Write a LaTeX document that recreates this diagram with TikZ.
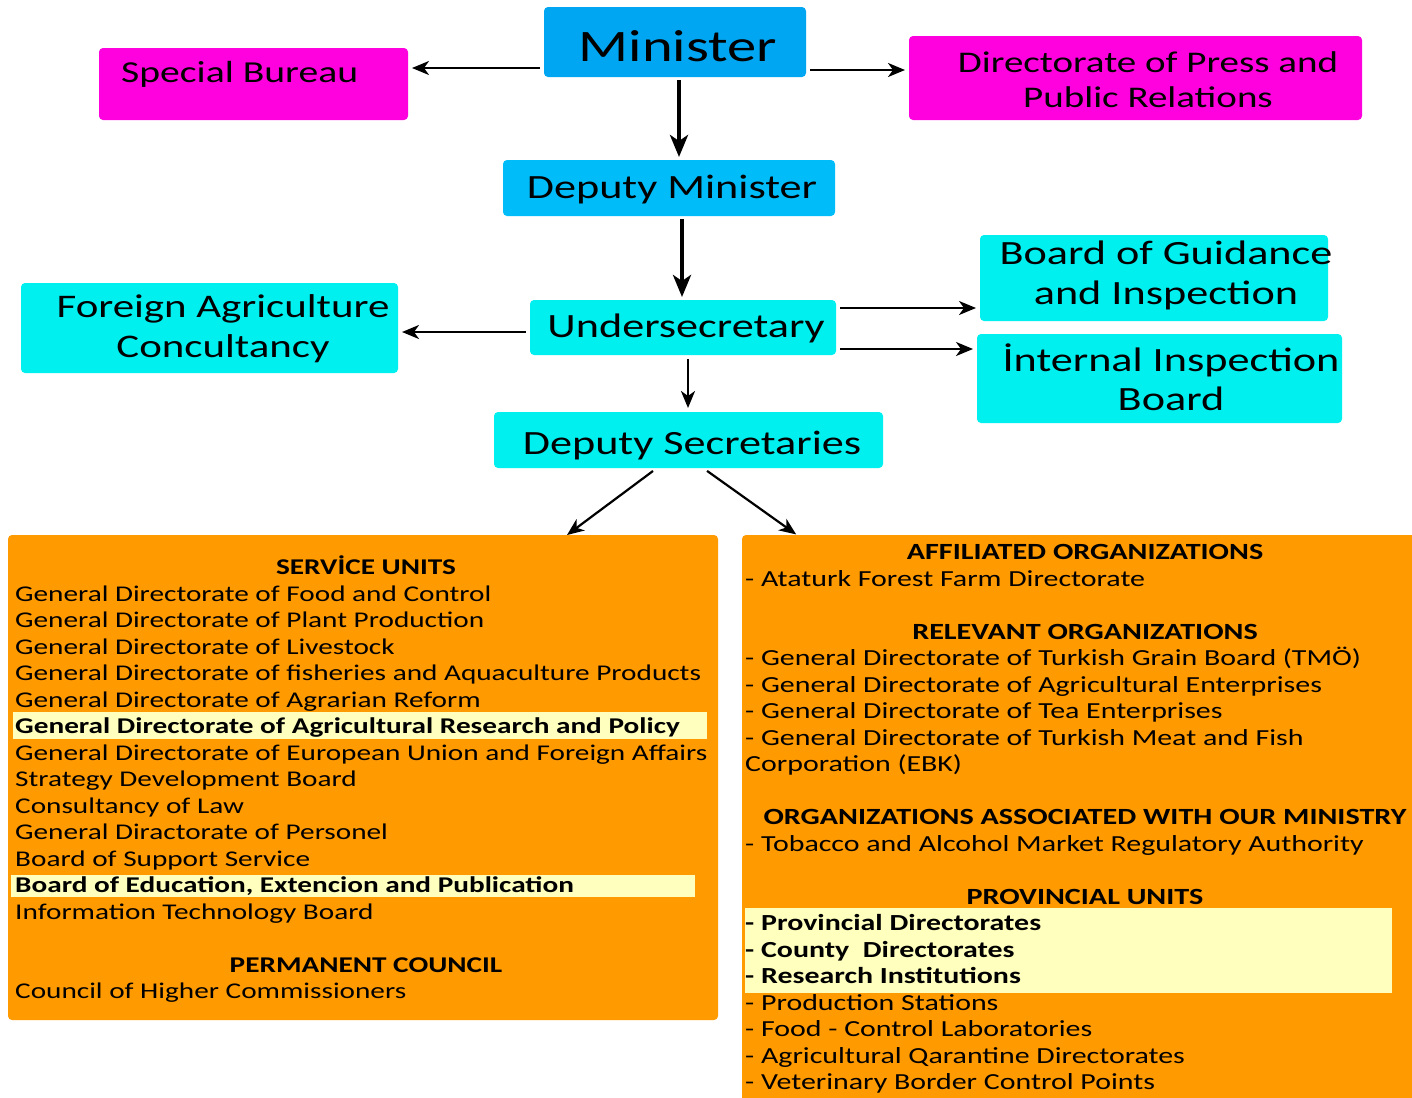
\documentclass[tikz,border=0pt]{standalone}
\usepackage{fontspec}
\setmainfont[FakeStretch=1.30]{Carlito}
\usetikzlibrary{arrows.meta}
\definecolor{cMin}{RGB}{0,166,242}
\definecolor{cDep}{RGB}{0,189,250}
\definecolor{cCyan}{RGB}{0,240,240}
\definecolor{cMag}{RGB}{255,0,222}
\definecolor{cOrange}{RGB}{255,154,0}
\definecolor{cHi}{RGB}{255,255,190}
\begin{document}
\begin{tikzpicture}[x=1bp,y=-1bp,
  box/.style={draw=none, rounded corners=4bp, inner sep=0pt, outer sep=0pt, anchor=north west},
  lbl/.style={inner sep=0pt, anchor=base, font=\fontsize{34bp}{40bp}\selectfont},
  body/.style={inner sep=0pt, anchor=base west, font=\fontsize{22.5bp}{27bp}\selectfont},
  bodyb/.style={body, font=\fontsize{22.5bp}{27bp}\selectfont\bfseries},
  rbody/.style={inner sep=0pt, anchor=base west, font=\fontsize{23bp}{27bp}\selectfont},
  rbodyb/.style={rbody, font=\fontsize{23bp}{27bp}\selectfont\bfseries},
  head/.style={inner sep=0pt, anchor=base, font=\fontsize{22.5bp}{27bp}\selectfont\bfseries},
  rhead/.style={head, font=\fontsize{23.2bp}{27bp}\selectfont\bfseries},
  arr/.style={-{Stealth[length=17bp,width=14bp,inset=5bp]}, line width=2.2bp, shorten <=4bp, shorten >=4bp},
  arrT/.style={-{Stealth[length=22bp,width=18bp,inset=6bp]}, line width=4.2bp, shorten <=3bp, shorten >=3bp}
]
\useasboundingbox[fill=white] (0,0) rectangle (1412,1097);

% boxes
\node[box, fill=cMin, minimum width=262bp, minimum height=70bp] (min) at (544,7) {};
\node[box, fill=cMag, minimum width=309bp, minimum height=72bp] (sb) at (99,48) {};
\node[box, fill=cMag, minimum width=453bp, minimum height=84bp] (press) at (909,36) {};
\node[box, fill=cDep, minimum width=332bp, minimum height=56bp] (dm) at (503,160) {};
\node[box, fill=cCyan, minimum width=348bp, minimum height=86bp] (bgi) at (980,235) {};
\node[box, fill=cCyan, minimum width=377bp, minimum height=90bp] (fac) at (21,283) {};
\node[box, fill=cCyan, minimum width=306bp, minimum height=55bp] (us) at (530,300) {};
\node[box, fill=cCyan, minimum width=365bp, minimum height=89bp] (iib) at (977,334) {};
\node[box, fill=cCyan, minimum width=389bp, minimum height=56bp] (ds) at (494,412) {};
\node[box, fill=cOrange, minimum width=710bp, minimum height=485bp] (lb) at (8,535) {};
\node[box, fill=cOrange, minimum width=690bp, minimum height=580bp] (rb) at (742,535) {};

% highlights
\fill[cHi] (13,712) rectangle (707,739);
\fill[cHi] (11,875) rectangle (695,897);
\fill[cHi] (745,908) rectangle (1392,993);

% box labels
\node[lbl, font=\fontsize{45bp}{54bp}\selectfont] (minT) at (678,61) {Minister};
\node[lbl, anchor=base west, font=\fontsize{30.5bp}{36bp}\selectfont] (sbT) at (121,82) {Special Bureau};
\node[lbl, font=\fontsize{30bp}{36bp}\selectfont] (pressT1) at (1148,72) {Directorate of Press and};
\node[lbl, font=\fontsize{30bp}{36bp}\selectfont] (pressT2) at (1148,107) {Public Relations};
\node[lbl] (dmT) at (672,198) {Deputy Minister};
\node[lbl] (bgiT1) at (1166,264) {Board of Guidance};
\node[lbl] (bgiT2) at (1166,304) {and Inspection};
\node[lbl, font=\fontsize{33bp}{40bp}\selectfont] (facT1) at (223,317) {Foreign Agriculture};
\node[lbl, font=\fontsize{33bp}{40bp}\selectfont] (facT2) at (223,357) {Concultancy};
\node[lbl] (usT) at (686,337) {Undersecretary};
\node[lbl] (iibT1) at (1171,371) {İnternal Inspection};
\node[lbl] (iibT2) at (1171,410) {Board};
\node[lbl] (dsT) at (692,454) {Deputy Secretaries};

% arrows
\draw[arr] (min.west |- 0,68) -- (sb.east |- 0,68);
\draw[arr] (min.east |- 0,70) -- (press.west |- 0,70);
\draw[arrT] (min.south -| 679,0) -- (dm.north -| 679,0);
\draw[arrT] (dm.south -| 682,0) -- (us.north -| 682,0);
\draw[arr] (us.west |- 0,332) -- (fac.east |- 0,332);
\draw[arr] (us.east |- 0,308) -- (bgi.west |- 0,308);
\draw[arr] (us.east |- 0,349) -- (iib.west |- 0,349);
\draw[arr, line width=2.5bp] (us.south -| 688,0) -- (ds.north -| 688,0);
\draw[arr, shorten <=5bp, shorten >=0bp] (ds.south -| 657,0) -- (lb.north -| 567,0);
\draw[arr, shorten <=5bp, shorten >=1bp] (ds.south -| 703,0) -- (rb.north -| 797,0);

% left box text
\node[head] (svT) at (366,574.5) {SERVİCE UNITS};
\node[body] (L1) at (15,601) {General Directorate of Food and Control};
\node[body] (L2) at (15,627.5) {General Directorate of Plant Production};
\node[body] (L3) at (15,654) {General Directorate of Livestock};
\node[body] (L4) at (15,680.5) {General Directorate of fisheries and Aquaculture Products};
\node[body] (L5) at (15,707) {General Directorate of Agrarian Reform};
\node[bodyb] (L6) at (15,733.5) {General Directorate of Agricultural Research and Policy};
\node[body] (L7) at (15,760) {General Directorate of European Union and Foreign Affairs};
\node[body] (L8) at (15,786.5) {Strategy Development Board};
\node[body] (L9) at (15,813) {Consultancy of Law};
\node[body] (L10) at (15,839.5) {General Diractorate of Personel};
\node[body] (L11) at (15,866) {Board of Support Service};
\node[bodyb] (L12) at (15,892.5) {Board of Education, Extencion and Publication};
\node[body] (L13) at (15,919) {Information Technology Board};
\node[head] (pcT) at (366,972) {PERMANENT COUNCIL};
\node[body] (L14) at (15,998.5) {Council of Higher Commissioners};

% right box text
\node[rhead] (afT) at (1085,559.5) {AFFILIATED ORGANIZATIONS};
\node[rbody] (R1) at (745,586) {- Ataturk Forest Farm Directorate};
\node[rhead] (reT) at (1085,639) {RELEVANT ORGANIZATIONS};
\node[rbody] (R2) at (745,665.5) {- General Directorate of Turkish Grain Board (TMÖ)};
\node[rbody] (R3) at (745,692) {- General Directorate of Agricultural Enterprises};
\node[rbody] (R4) at (745,718.5) {- General Directorate of Tea Enterprises};
\node[rbody] (R5) at (745,745) {- General Directorate of Turkish Meat and Fish};
\node[rbody] (R6) at (745,771.5) {Corporation (EBK)};
\node[rhead] (oaT) at (1085,824.5) {ORGANIZATIONS ASSOCIATED WITH OUR MINISTRY};
\node[rbody] (R7) at (745,851) {- Tobacco and Alcohol Market Regulatory Authority};
\node[rhead] (puT) at (1085,904) {PROVINCIAL UNITS};
\node[rbodyb] (R8) at (745,930.5) {- Provincial Directorates};
\node[rbodyb] (R9) at (745,957) {- County~~Directorates};
\node[rbodyb] (R10) at (745,983.5) {- Research Institutions};
\node[rbody] (R11) at (745,1010) {- Production Stations};
\node[rbody] (R12) at (745,1036.5) {- Food - Control Laboratories};
\node[rbody] (R13) at (745,1063) {- Agricultural Qarantine Directorates};
\node[rbody] (R14) at (745,1089.5) {- Veterinary Border Control Points};
\end{tikzpicture}
\end{document}
